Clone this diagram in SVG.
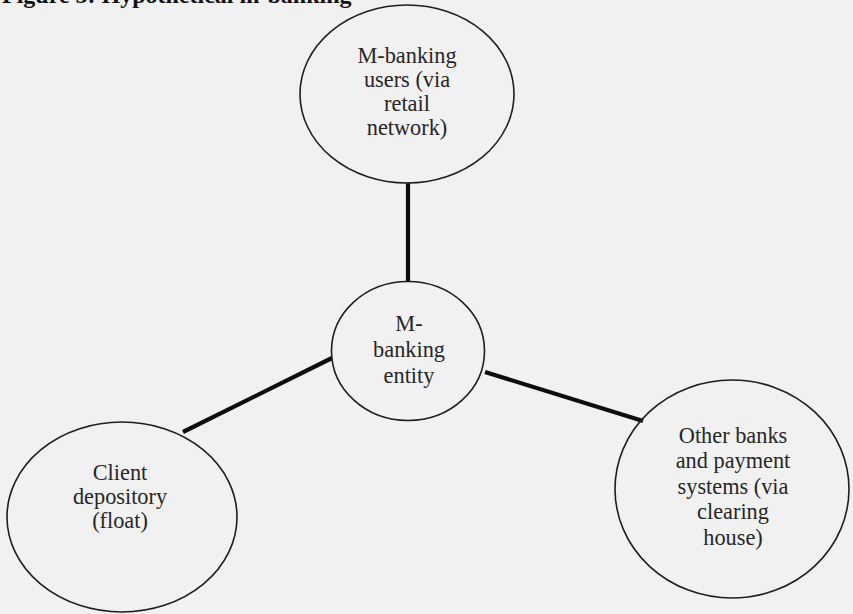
<svg xmlns="http://www.w3.org/2000/svg" width="853" height="614" viewBox="0 0 853 614">
<style>
.bg{fill:#f1f1f1}
.node{fill:none;stroke:#1e1e1e;stroke-width:1.6}
.lbl{font-family:"Liberation Serif","Times New Roman",serif;font-size:23.5px;fill:#262626;text-anchor:middle}
.edge{stroke:#0d0d0d;stroke-width:4.2;stroke-linecap:butt;fill:none}
.title{font-family:"Liberation Serif","Times New Roman",serif;font-size:24px;font-weight:bold;fill:#111}
</style>
<rect class="bg" x="0" y="0" width="853" height="614"/>
<text class="title" x="2" y="3">Figure 3: Hypothetical m-banking</text>
<g id="connectors">
<line class="edge" x1="408" y1="183" x2="408" y2="281"/>
<line class="edge" x1="332" y1="358" x2="183" y2="432"/>
<line class="edge" x1="485" y1="372" x2="643" y2="421"/>
</g>
<g id="users">
<ellipse class="node" cx="407" cy="94" rx="107" ry="89"/>
<g transform="translate(407,0) scale(0.95,1)">
<text class="lbl" x="0" y="63">M-banking</text>
<text class="lbl" x="0" y="87">users (via</text>
<text class="lbl" x="0" y="111">retail</text>
<text class="lbl" x="0" y="135">network)</text>
</g>
</g>
<g id="entity">
<ellipse class="node" cx="408" cy="351" rx="76.5" ry="69.5"/>
<g transform="translate(409,0) scale(0.95,1)">
<text class="lbl" x="0" y="331">M-</text>
<text class="lbl" x="0" y="357">banking</text>
<text class="lbl" x="0" y="383">entity</text>
</g>
</g>
<g id="client">
<ellipse class="node" cx="122" cy="517" rx="115" ry="95"/>
<g transform="translate(120,0) scale(0.95,1)">
<text class="lbl" x="0" y="480">Client</text>
<text class="lbl" x="0" y="504">depository</text>
<text class="lbl" x="0" y="528">(float)</text>
</g>
</g>
<g id="otherbanks">
<ellipse class="node" cx="732" cy="489" rx="117" ry="109"/>
<g transform="translate(733,0) scale(0.95,1)">
<text class="lbl" x="0" y="443">Other banks</text>
<text class="lbl" x="0" y="468">and payment</text>
<text class="lbl" x="0" y="494">systems (via</text>
<text class="lbl" x="0" y="519">clearing</text>
<text class="lbl" x="0" y="545">house)</text>
</g>
</g>
</svg>
